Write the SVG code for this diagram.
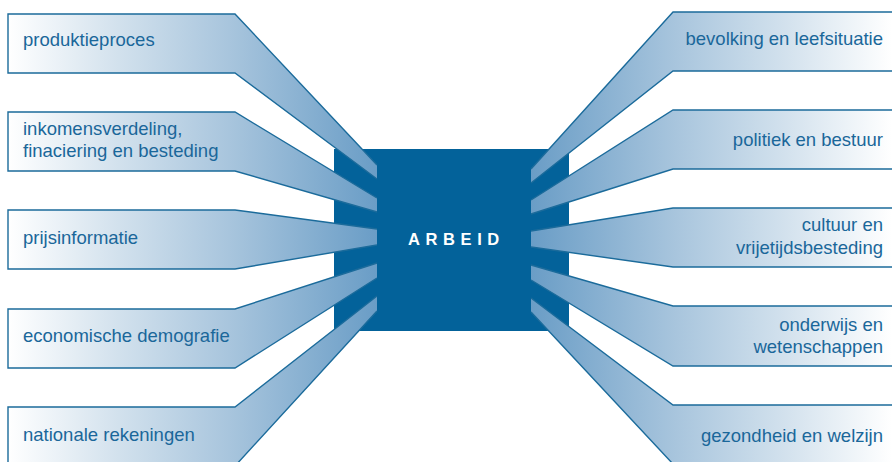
<svg xmlns="http://www.w3.org/2000/svg" width="892" height="462" viewBox="0 0 892 462">
<defs>
<linearGradient id="gl" gradientUnits="userSpaceOnUse" x1="8" y1="0" x2="377" y2="0">
<stop offset="0" stop-color="#ffffff"/>
<stop offset="0.3" stop-color="#d2e1ed"/>
<stop offset="0.6" stop-color="#a8c5dd"/>
<stop offset="1" stop-color="#6a9dc6"/>
</linearGradient>
<linearGradient id="gr" gradientUnits="userSpaceOnUse" x1="892" y1="0" x2="531" y2="0">
<stop offset="0" stop-color="#ffffff"/>
<stop offset="0.3" stop-color="#d2e1ed"/>
<stop offset="0.6" stop-color="#a8c5dd"/>
<stop offset="1" stop-color="#6a9dc6"/>
</linearGradient>
<style>
.fl{fill:url(#gl);stroke:none}
.fr{fill:url(#gr);stroke:none}
.ol{fill:none;stroke:#1b6b9b;stroke-width:1.4;stroke-linejoin:miter}
.t{font-family:"Liberation Sans",Arial,sans-serif;font-size:18.5px;fill:#1a679a}
.r{text-anchor:end}
</style>
</defs>
<rect id="arbeid-box" x="334" y="149" width="235" height="182" fill="#03629a"/>
<g id="connectors">
<polygon class="fl" points="8,14 235,14 377,165 377,179 235,73 8,73"/>
<path class="ol" d="M377,165 L235,14 L8,14 L8,73 L235,73 L377,179"/>
<polygon class="fl" points="8,112 235,112 377,198 377,212 235,171 8,171"/>
<path class="ol" d="M377,198 L235,112 L8,112 L8,171 L235,171 L377,212"/>
<polygon class="fl" points="8,210 235,210 377,229 377,245 235,269 8,269"/>
<path class="ol" d="M377,229 L235,210 L8,210 L8,269 L235,269 L377,245"/>
<polygon class="fl" points="8,309 235,309 377,263 377,278 235,368 8,368"/>
<path class="ol" d="M377,263 L235,309 L8,309 L8,368 L235,368 L377,278"/>
<polygon class="fl" points="8,407 235,407 377,296 377,311 235,466 8,466"/>
<path class="ol" d="M377,296 L235,407 L8,407 L8,466 L235,466 L377,311"/>
<polygon class="fr" points="893,12 673,12 531,169 531,183 673,71 893,71"/>
<path class="ol" d="M531,169 L673,12 L893,12 M893,71 L673,71 L531,183"/>
<polygon class="fr" points="893,110 673,110 531,200 531,214 673,169 893,169"/>
<path class="ol" d="M531,200 L673,110 L893,110 M893,169 L673,169 L531,214"/>
<polygon class="fr" points="893,208 673,208 531,231 531,247 673,267 893,267"/>
<path class="ol" d="M531,231 L673,208 L893,208 M893,267 L673,267 L531,247"/>
<polygon class="fr" points="893,306 673,306 531,265 531,280 673,366 893,366"/>
<path class="ol" d="M531,265 L673,306 L893,306 M893,366 L673,366 L531,280"/>
<polygon class="fr" points="893,405 673,405 531,298 531,312 673,464 893,464"/>
<path class="ol" d="M531,298 L673,405 L893,405 M893,464 L673,464 L531,312"/>
</g>
<g id="arbeid"><text x="408" y="245" font-family="Liberation Sans,Arial,sans-serif" font-size="16.5" font-weight="bold" fill="#ffffff" letter-spacing="5.6">ARBEID</text></g>
<g id="produktieproces"><text class="t" x="23" y="46">produktieproces</text></g>
<g id="inkomensverdeling"><text class="t" x="23" y="135">inkomensverdeling,</text><text class="t" x="23" y="157">finaciering en besteding</text></g>
<g id="prijsinformatie"><text class="t" x="23" y="244">prijsinformatie</text></g>
<g id="economische-demografie"><text class="t" x="23" y="342">economische demografie</text></g>
<g id="nationale-rekeningen"><text class="t" x="23" y="441">nationale rekeningen</text></g>
<g id="bevolking"><text class="t r" x="883" y="45">bevolking en leefsituatie</text></g>
<g id="politiek"><text class="t r" x="883" y="146">politiek en bestuur</text></g>
<g id="cultuur"><text class="t r" x="883" y="231">cultuur en</text><text class="t r" x="883" y="254">vrijetijdsbesteding</text></g>
<g id="onderwijs"><text class="t r" x="883" y="331">onderwijs en</text><text class="t r" x="883" y="353">wetenschappen</text></g>
<g id="gezondheid"><text class="t r" x="883" y="442">gezondheid en welzijn</text></g>
</svg>
